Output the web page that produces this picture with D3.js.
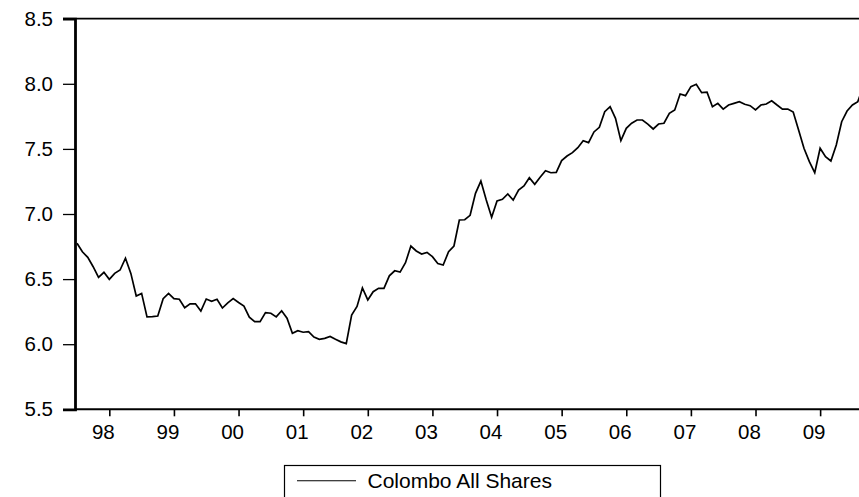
<!DOCTYPE html>
<html><head><meta charset="utf-8">
<script src="https://cdn.jsdelivr.net/npm/d3@7"></script>
<style>html,body{margin:0;padding:0;background:#fff;overflow:hidden}svg{display:block}</style>
</head><body>
<svg id="chart" width="859" height="497"></svg>
<script>
// Monthly series starting 1997M07
const startYear = 1997, startMonth = 7;
const seriesName = "Colombo All Shares";
const values = [
6.775,6.71,6.667,6.595,6.514,6.552,6.498,6.544,6.57,6.66,6.544,6.37,6.39,6.21,6.212,6.216,6.35,6.39,6.35,6.345,
6.28,6.31,6.31,6.255,6.347,6.33,6.345,6.278,6.318,6.35,6.32,6.293,6.208,6.173,6.173,6.243,6.238,6.21,6.257,6.2,
6.084,6.104,6.092,6.096,6.055,6.038,6.045,6.06,6.038,6.018,6.005,6.224,6.29,6.432,6.34,6.403,6.429,6.429,6.525,6.564,
6.554,6.626,6.754,6.716,6.693,6.705,6.672,6.62,6.608,6.71,6.754,6.954,6.956,6.99,7.159,7.253,7.107,6.975,7.10,7.113,
7.154,7.107,7.184,7.215,7.279,7.228,7.282,7.333,7.317,7.32,7.41,7.445,7.471,7.509,7.563,7.548,7.63,7.666,7.786,7.824,
7.735,7.563,7.658,7.697,7.722,7.722,7.691,7.653,7.691,7.697,7.773,7.799,7.922,7.909,7.978,7.996,7.932,7.935,7.824,7.85,
7.805,7.837,7.85,7.863,7.843,7.832,7.799,7.837,7.845,7.87,7.837,7.806,7.806,7.783,7.645,7.505,7.402,7.317,7.505,7.44,
7.407,7.53,7.709,7.791,7.837,7.863,7.98
];
const yTicks = [5.5, 6.0, 6.5, 7.0, 7.5, 8.0, 8.5];
const xTickLabels = ["98","99","00","01","02","03","04","05","06","07","08","09"];

const svg = d3.select("#chart");
const W = 859;
const x0 = 77, monthPx = 5.385;
const x = d3.scaleLinear().domain([0, values.length - 1]).range([x0, x0 + (values.length - 1) * monthPx]);
const y = d3.scaleLinear().domain([5.5, 8.5]).range([409.3, 18.7]);
const font = "'Liberation Sans', Arial, Helvetica, sans-serif";
const axisX = 75;

// clip
svg.append("defs").append("clipPath").attr("id","clip")
  .append("rect").attr("x", axisX).attr("y", 0).attr("width", W - axisX).attr("height", 420);

// data line
svg.append("path").datum(values)
  .attr("clip-path","url(#clip)")
  .attr("fill","none").attr("stroke","#000").attr("stroke-width",1.7)
  .attr("stroke-linejoin","miter")
  .attr("d", d3.line().x((d,i)=>x(i)).y(d=>y(d)));

// top frame
svg.append("line").attr("x1",63).attr("x2",W).attr("y1",y(8.5)).attr("y2",y(8.5))
  .attr("stroke","#000").attr("stroke-width",1.8);

// Y axis
const yAxis = d3.axisLeft(y).tickValues(yTicks).tickSize(12).tickPadding(10).tickFormat(d3.format(".1f"));
const gy = svg.append("g").attr("transform",`translate(${axisX},0)`).call(yAxis);
gy.select(".domain").attr("stroke","#000").attr("stroke-width",2.8);
gy.selectAll(".tick line").attr("stroke","#000").attr("stroke-width",1.3);
gy.selectAll(".tick text").attr("font-family",font).attr("font-size","20.5px").attr("fill","#000");

// X axis: ticks at January of each year
const janIdx = xTickLabels.map((_,k)=> (13 - startMonth) + 12*k);
const xAxis = d3.axisBottom(x).tickValues(janIdx).tickSize(7).tickPadding(8)
  .tickFormat((d,i)=>xTickLabels[i]);
const gx = svg.append("g").attr("transform",`translate(0,${y(5.5)})`).call(xAxis);
gx.select(".domain").remove();
gx.selectAll(".tick line").attr("stroke","#000").attr("stroke-width",1.6);
gx.selectAll(".tick text").attr("font-family",font).attr("font-size","20.5px").attr("fill","#000")
  .attr("dx",-6.5);
svg.append("line").attr("x1",axisX).attr("x2",W).attr("y1",y(5.5)).attr("y2",y(5.5))
  .attr("stroke","#000").attr("stroke-width",2);

// Legend
const lg = svg.append("g");
lg.append("rect").attr("x",284.5).attr("y",465.5).attr("width",376).attr("height",40)
  .attr("fill","#fff").attr("stroke","#000").attr("stroke-width",1.2);
lg.append("line").attr("x1",297).attr("x2",356).attr("y1",480.7).attr("y2",480.7)
  .attr("stroke","#000").attr("stroke-width",1.1);
lg.append("text").attr("x",367.5).attr("y",488).attr("font-family",font).attr("font-size","21px")
  .attr("fill","#000").text(seriesName);
</script>
</body></html>
